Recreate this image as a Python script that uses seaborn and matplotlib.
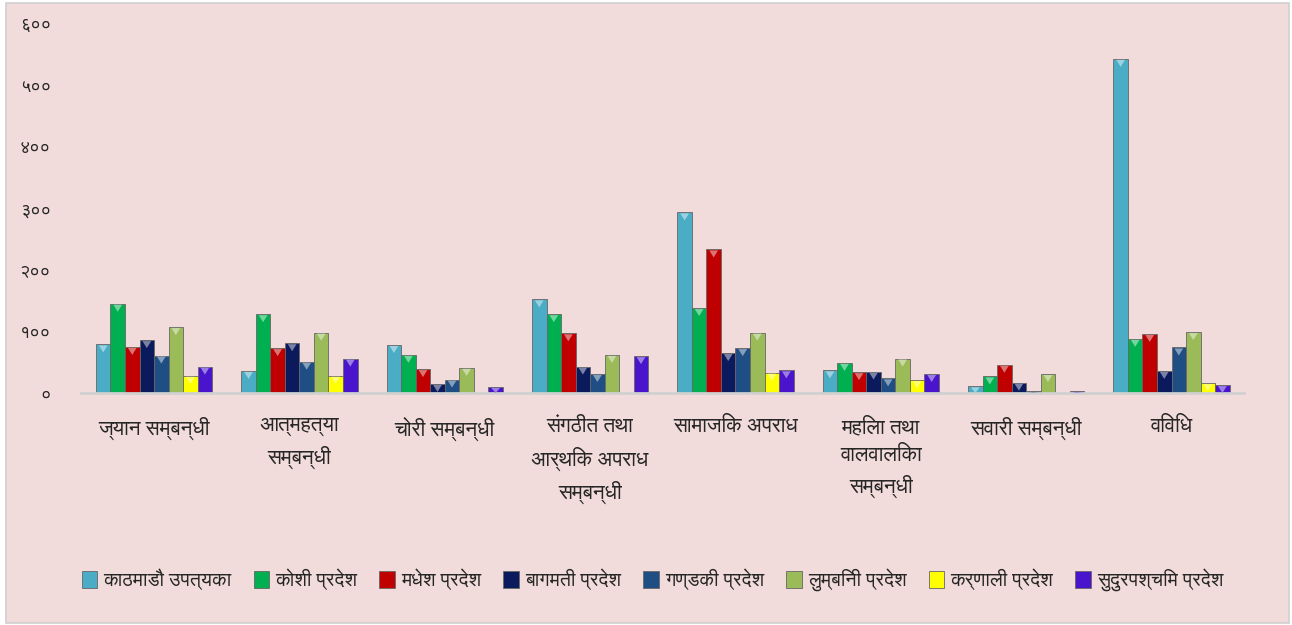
import numpy as np
import pandas as pd
import matplotlib
matplotlib.use("Agg")
import matplotlib.pyplot as plt
import seaborn as sns
from matplotlib.patches import Rectangle, Polygon
from matplotlib.colors import to_rgb

# data
categories = ["ज्यान सम्बन्धी", "आत्महत्या\nसम्बन्धी", "चोरी सम्बन्धी",
              "संगठीत तथा\nआर्थिक अपराध\nसम्बन्धी", "सामाजिक अपराध",
              "महिला तथा\nवालवालिका\nसम्बन्धी", "सवारी सम्बन्धी", "विविध"]
provinces = ["काठमाडौ उपत्यका", "कोशी प्रदेश", "मधेश प्रदेश", "बागमती प्रदेश",
             "गण्डकी प्रदेश", "लुम्बिनी प्रदेश", "कर्णाली प्रदेश", "सुदुरपश्चिम प्रदेश"]
kathmandu = [79, 36, 78, 152, 293, 37, 11, 542]
koshi = [145, 128, 62, 128, 138, 49, 27, 88]
madhesh = [75, 73, 39, 97, 233, 34, 46, 96]
bagmati = [86, 81, 15, 43, 65, 35, 17, 36]
gandaki = [61, 51, 22, 31, 73, 24, 3, 74]
lumbini = [107, 98, 41, 62, 98, 56, 31, 99]
karnali = [28, 28, 0, 1, 33, 21, 0, 16]
sudurpashchim = [43, 56, 10, 60, 37, 31, 3, 13]
yticks = [0, 100, 200, 300, 400, 500, 600]
ytick_labels = ["०", "१००", "२००", "३००", "४००", "५००", "६००"]
colors = ["#4BACC6", "#00B050", "#C00000", "#0B1A5C", "#1F4E85", "#9BBB59", "#FFFF00", "#4A14CC"]

series = [kathmandu, koshi, madhesh, bagmati, gandaki, lumbini, karnali, sudurpashchim]
rows = []
for p, vals in zip(provinces, series):
    for c, v in zip(categories, vals):
        rows.append({"category": c, "province": p, "count": v})
df = pd.DataFrame(rows)

sns.set_style("white")
# FreeSans carries the Devanagari glyphs
plt.rcParams["font.family"] = ["FreeSans", "DejaVu Sans"]

bg = "#F2DCDB"
fig = plt.figure(figsize=(12.92, 6.25), dpi=100, facecolor="white")
fig.patches.append(Rectangle((0.005, 0.004), 0.993, 0.991, transform=fig.transFigure,
                             facecolor=bg, edgecolor="#D0D0D0", linewidth=1.2, zorder=-1))
ax = fig.add_axes([0.063, 0.371, 0.9, 0.592])
ax.set_facecolor(bg)

sns.barplot(data=df, x="category", y="count", hue="province", palette=colors,
            saturation=1, width=0.8, edgecolor="#666666", linewidth=0.6, ax=ax, legend=True)

# bevel look: a lighter little triangle on top of each bar
px_per_unit = ax.bbox.height / 600
for bar in list(ax.patches):
    h = bar.get_height()
    if h <= 0:
        continue
    x0, w = bar.get_x(), bar.get_width()
    tri_h = min(8 / px_per_unit, h)
    light = tuple(c + (1 - c) * 0.45 for c in to_rgb(bar.get_facecolor()))
    ax.add_patch(Polygon([(x0 + w * 0.2, h - 1 / px_per_unit), (x0 + w * 0.8, h - 1 / px_per_unit),
                          (x0 + w * 0.5, h - tri_h)], closed=True, facecolor=light,
                         edgecolor="none", zorder=3))

ax.set_ylim(0, 600)
ax.set_yticks(yticks)
ax.set_yticklabels(ytick_labels, fontsize=13)
ax.set_xlabel("")
ax.set_ylabel("")
ax.tick_params(axis="x", labelsize=15, length=0, pad=17)
ax.tick_params(axis="y", length=0, pad=22)
for lbl in ax.get_xticklabels():
    lbl.set_linespacing(1.55)
for s in ["top", "right", "left"]:
    ax.spines[s].set_visible(False)
ax.spines["bottom"].set_color("#D0D0D0")
ax.spines["bottom"].set_linewidth(2)
ax.grid(False)

handles, labels = ax.get_legend_handles_labels()
ax.legend_.remove()
fig.legend(handles, labels, loc="center", bbox_to_anchor=(0.505, 0.072), ncol=8,
           frameon=False, fontsize=14, handlelength=0.8, handleheight=0.9,
           handletextpad=0.3, columnspacing=1.15)

plt.savefig("out.png", dpi=100, facecolor=fig.get_facecolor())
